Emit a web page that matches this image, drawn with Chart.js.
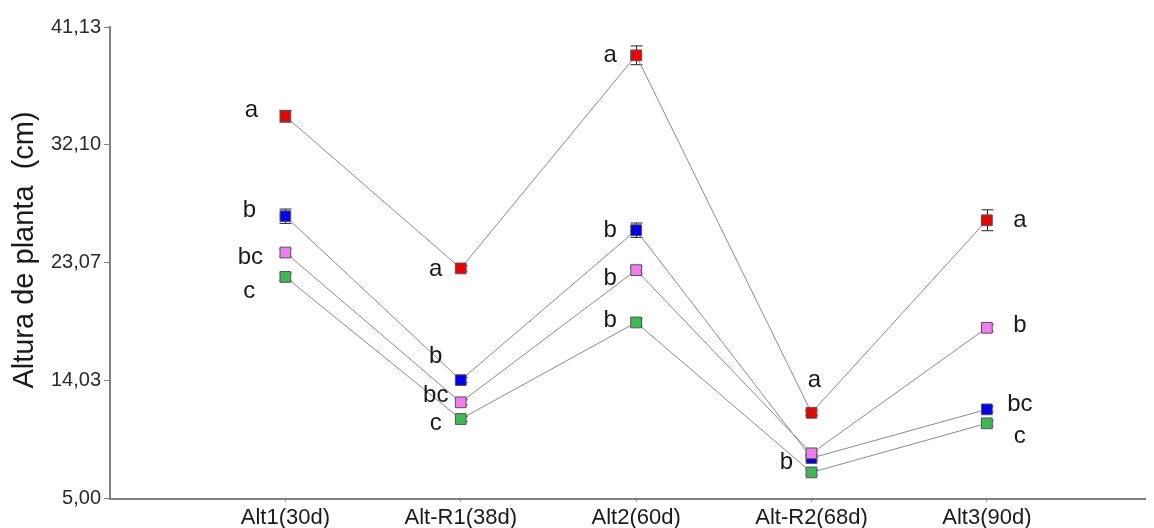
<!DOCTYPE html>
<html>
<head>
<meta charset="utf-8">
<script src="https://cdn.jsdelivr.net/npm/chart.js@4.4.1/dist/chart.umd.min.js"></script>
<style>
  html, body { margin: 0; padding: 0; background: #ffffff; }
  canvas { display: block; }
</style>
</head>
<body>
<canvas id="chart" width="1154" height="528"></canvas>
<script>
// Sampling dates
const categories = ['Alt1(30d)', 'Alt-R1(38d)', 'Alt2(60d)', 'Alt-R2(68d)', 'Alt3(90d)'];

// Y axis ticks (cm)
const yTicks = [5.00, 14.03, 23.07, 32.10, 41.13];
const yTickLabels = ['5,00', '14,03', '23,07', '32,10', '41,13'];
const yTitle = 'Altura de planta  (cm)';

// Mean plant height per treatment (cm)
const redValues   = [34.29, 22.63, 38.96, 11.57, 26.32];
const pinkValues  = [23.85, 12.37, 22.50, 8.46, 18.08];
const blueValues  = [26.63, 14.07, 25.56, 8.10, 11.83];
const greenValues = [21.98, 11.09, 18.49, 7.00, 10.76];

// Standard errors
const redErrors   = [0.45, 0.20, 0.72, 0.20, 0.80];
const pinkErrors  = [0.30, 0.20, 0.30, 0.20, 0.25];
const blueErrors  = [0.55, 0.20, 0.55, 0.20, 0.20];
const greenErrors = [0.30, 0.20, 0.30, 0.20, 0.20];

// Mean separation letters
const redLetters   = ['a', 'a', 'a', 'a', 'a'];
const pinkLetters  = ['bc', 'bc', 'b', '', 'b'];
const blueLetters  = ['b', 'b', 'b', 'b', 'bc'];
const greenLetters = ['c', 'c', 'b', '', 'c'];

// Letter placement nudges relative to each marker (px)
const redNudgeX   = [-34, -25, -26, 3, 33];
const redNudgeY   = [1, 8, 7, -26, 7];
const pinkNudgeX  = [-35, -25, -26, 0, 33];
const pinkNudgeY  = [11, 0, 15, 0, 4];
const blueNudgeX  = [-36, -25, -26, -25, 33];
const blueNudgeY  = [1, -17, 7, 11, 2];
const greenNudgeX = [-36, -25, -26, 0, 33];
const greenNudgeY = [21, 11, 5, 0, 20];

// First dataset ends up drawn on top
const series = [
  { values: redValues,   errors: redErrors,   letters: redLetters,   nx: redNudgeX,   ny: redNudgeY,   color: '#ee0000' },
  { values: pinkValues,  errors: pinkErrors,  letters: pinkLetters,  nx: pinkNudgeX,  ny: pinkNudgeY,  color: '#f07cf0' },
  { values: blueValues,  errors: blueErrors,  letters: blueLetters,  nx: blueNudgeX,  ny: blueNudgeY,  color: '#0000ee' },
  { values: greenValues, errors: greenErrors, letters: greenLetters, nx: greenNudgeX, ny: greenNudgeY, color: '#3cba54' }
];

const FONT = '"Liberation Sans", Arial, sans-serif';

const errorBars = {
  id: 'errorBars',
  beforeDatasetsDraw(chart) {
    const { ctx, scales: { x, y } } = chart;
    ctx.save();
    ctx.strokeStyle = '#222222';
    ctx.lineWidth = 1;
    series.forEach(s => {
      s.values.forEach((v, i) => {
        const px = Math.round(x.getPixelForValue(i + 1)) + 0.5;
        const top = y.getPixelForValue(v + s.errors[i]);
        const bot = y.getPixelForValue(v - s.errors[i]);
        ctx.beginPath();
        ctx.moveTo(px, top); ctx.lineTo(px, bot);
        ctx.moveTo(px - 6, top); ctx.lineTo(px + 6, top);
        ctx.moveTo(px - 6, bot); ctx.lineTo(px + 6, bot);
        ctx.stroke();
      });
    });
    ctx.restore();
  }
};

const letterLabels = {
  id: 'letterLabels',
  afterDatasetsDraw(chart) {
    const { ctx, scales: { x, y } } = chart;
    ctx.save();
    ctx.font = '24px ' + FONT;
    ctx.fillStyle = '#1a1a1a';
    ctx.textAlign = 'center';
    ctx.textBaseline = 'alphabetic';
    series.forEach(s => {
      s.letters.forEach((t, i) => {
        if (!t) return;
        const px = x.getPixelForValue(i + 1) + s.nx[i];
        const py = y.getPixelForValue(s.values[i]) + s.ny[i];
        ctx.fillText(t, px, py);
      });
    });
    ctx.restore();
  }
};

// Vertical axis caption, centred on the left margin
const axisCaption = {
  id: 'axisCaption',
  afterDraw(chart) {
    const { ctx } = chart;
    ctx.save();
    ctx.translate(25, 250);
    ctx.rotate(-Math.PI / 2);
    ctx.font = '29px ' + FONT;
    ctx.fillStyle = '#1a1a1a';
    ctx.textAlign = 'center';
    ctx.textBaseline = 'middle';
    ctx.fillText(yTitle, 0, 0);
    ctx.restore();
  }
};

new Chart(document.getElementById('chart'), {
  type: 'scatter',
  data: {
    datasets: series.map(s => ({
      data: s.values.map((v, i) => ({ x: i + 1, y: v })),
      showLine: true,
      borderColor: '#8a8a8a',
      borderWidth: 1,
      pointStyle: 'rect',
      pointRadius: 7.6,
      pointHoverRadius: 7.6,
      pointBackgroundColor: s.color,
      pointBorderColor: '#555555',
      pointBorderWidth: 1
    }))
  },
  options: {
    responsive: false,
    animation: false,
    devicePixelRatio: 1,
    layout: { padding: { top: 27, right: 0, bottom: 0, left: 0 } },
    plugins: {
      legend: { display: false },
      tooltip: { enabled: false }
    },
    scales: {
      x: {
        type: 'linear',
        min: 0,
        max: 5.904,
        afterBuildTicks(scale) {
          scale.ticks = categories.map((c, i) => ({ value: i + 1 }));
        },
        afterFit(scale) { scale.height = 29.5; },
        ticks: {
          autoSkip: false,
          maxRotation: 0,
          padding: 3,
          color: '#1a1a1a',
          font: { family: FONT, size: 22 },
          callback: (value) => categories[Math.round(value) - 1]
        },
        grid: { drawOnChartArea: false, drawTicks: true, tickLength: 3, color: '#808080' },
        border: { display: true, color: '#808080', width: 2 }
      },
      y: {
        type: 'linear',
        min: yTicks[0],
        max: yTicks[yTicks.length - 1],
        afterBuildTicks(scale) {
          scale.ticks = yTicks.map(v => ({ value: v }));
        },
        afterFit(scale) { scale.width = 110; },
        ticks: {
          padding: 3,
          color: '#2a2a2a',
          font: { family: FONT, size: 20 },
          callback: (value, index) => yTickLabels[index]
        },
        grid: { drawOnChartArea: false, drawTicks: true, tickLength: 6, color: '#808080' },
        border: { display: true, color: '#808080', width: 2 }
      }
    }
  },
  plugins: [errorBars, letterLabels, axisCaption]
});
</script>
</body>
</html>
